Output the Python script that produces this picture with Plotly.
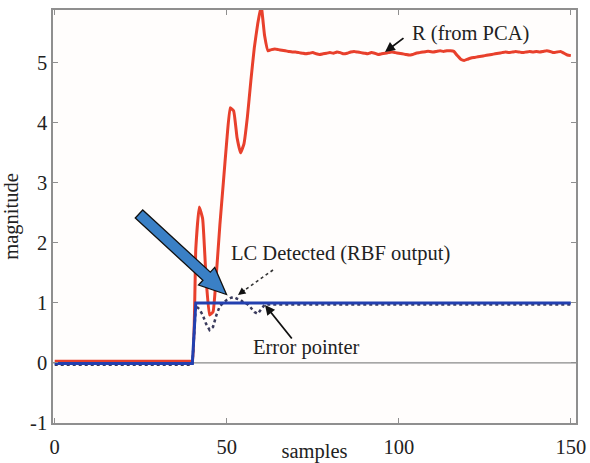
import plotly.graph_objects as go
import math

# ---------------- data ----------------
samples = list(range(0, 151))

r_pca = ([0.03] * 41 +
         [1.9, 2.6, 2.4, 1.4, 0.8, 0.85, 1.5, 2.3, 3.0, 3.7,
          4.25, 4.2, 3.75, 3.5, 3.65, 4.1, 4.7, 5.25, 5.65, 5.95,
          5.45, 5.2,
          5.22, 5.23, 5.22, 5.21, 5.2, 5.19, 5.18, 5.18,
          5.17, 5.16, 5.15, 5.16, 5.17, 5.15, 5.14, 5.15, 5.16, 5.17,
          5.16, 5.18, 5.17, 5.15, 5.16, 5.18, 5.19, 5.18, 5.17, 5.16,
          5.15, 5.17, 5.16, 5.14, 5.15, 5.16, 5.17, 5.18, 5.17, 5.16,
          5.15, 5.14, 5.13, 5.14, 5.16, 5.17, 5.18, 5.19, 5.19, 5.18,
          5.19, 5.2, 5.19, 5.2, 5.2, 5.19, 5.12, 5.06, 5.04, 5.06,
          5.08, 5.09, 5.1, 5.11, 5.12, 5.13, 5.14, 5.15, 5.16, 5.17,
          5.18, 5.17, 5.18, 5.19, 5.18, 5.17, 5.18, 5.19, 5.18, 5.19,
          5.18, 5.19, 5.2, 5.19, 5.17, 5.18, 5.19, 5.16, 5.13, 5.12])

rbf_output = ([-0.03] * 41 +
              [0.95, 0.9, 0.8, 0.65, 0.55, 0.6, 0.8, 0.95, 1.0, 1.05,
               1.08, 1.1, 1.07, 1.05, 1.0, 0.98, 0.92, 0.85, 0.82, 0.9,
               0.97] + [0.975] * 89)

lc_detected = [-0.01] * 41 + [1.0] * 110

x_ticks = [0, 50, 100, 150]
y_ticks = [-1, 0, 1, 2, 3, 4, 5]

# ---------------- geometry helpers (pixel -> data) ----------------
W, H = 590, 463
ML, MR, MT, MB = 53, 14, 10, 40
XR = [-0.5, 151.5]
YR = [-1.0, 5.88]
PW, PH = W - ML - MR, H - MT - MB


def px2x(px):
    return XR[0] + (px - ML) / PW * (XR[1] - XR[0])


def py2y(py):
    return YR[1] - (py - MT) / PH * (YR[1] - YR[0])


FONT = "Liberation Serif, Times New Roman, serif"
TXT = "#222222"
FS = 20.5

fig = go.Figure()

fig.add_trace(go.Scatter(x=samples, y=r_pca, mode="lines", name="R (from PCA)",
                         line=dict(color="#e8402c", width=3, shape="spline", smoothing=0.35)))
fig.add_trace(go.Scatter(x=samples, y=rbf_output, mode="lines", name="RBF output",
                         line=dict(color="#3a3a5c", width=2.5, dash="dot")))
fig.add_trace(go.Scatter(x=samples, y=lc_detected, mode="lines", name="LC Detected",
                         line=dict(color="#2340b0", width=3)))

# zero line
fig.add_shape(type="line", xref="paper", x0=0, x1=1, yref="y", y0=0, y1=0,
              line=dict(color="#8a8a8a", width=1.2), layer="below")

# big blue arrow (pixel geometry -> data)
T = (139.0, 214.0)
P = (226.5, 294.5)
dx, dy = P[0] - T[0], P[1] - T[1]
L = math.hypot(dx, dy)
ux, uy = dx / L, dy / L
nx, ny = -uy, ux
w, hw, hl = 5.5, 12.0, 27.0
Hc = (P[0] - hl * ux, P[1] - hl * uy)
pts = [
    (T[0] + w * nx, T[1] + w * ny),
    (Hc[0] + w * nx, Hc[1] + w * ny),
    (Hc[0] + hw * nx, Hc[1] + hw * ny),
    P,
    (Hc[0] - hw * nx, Hc[1] - hw * ny),
    (Hc[0] - w * nx, Hc[1] - w * ny),
    (T[0] - w * nx, T[1] - w * ny),
]
path = "M " + " L ".join(f"{px2x(a):.4f},{py2y(b):.4f}" for a, b in pts) + " Z"
fig.add_shape(type="path", path=path, xref="x", yref="y",
              fillcolor="#3a80c6", line=dict(color="#111111", width=1.3), layer="above")

# dotted arrow shaft for LC Detected
fig.add_shape(type="line", xref="x", yref="y",
              x0=px2x(273), y0=py2y(270), x1=px2x(242), y1=py2y(292),
              line=dict(color="#333333", width=1.6, dash="dot"), layer="above")

annotations = [
    dict(x=px2x(470), y=py2y(33), text="R (from PCA)", showarrow=False),
    dict(x=px2x(385), y=py2y(52), ax=px2x(405), ay=py2y(37), axref="x", ayref="y",
         text="", showarrow=True, arrowhead=2, arrowsize=1.1, arrowwidth=1.8, arrowcolor="#111111"),
    dict(x=px2x(340), y=py2y(253), text="LC Detected (RBF output)", showarrow=False),
    dict(x=px2x(238), y=py2y(295), ax=px2x(246), ay=py2y(289), axref="x", ayref="y",
         text="", showarrow=True, arrowhead=2, arrowsize=1.0, arrowwidth=1.5, arrowcolor="#111111"),
    dict(x=px2x(306), y=py2y(347), text="Error pointer", showarrow=False),
    dict(x=px2x(265), y=py2y(305), ax=px2x(293), ay=py2y(340), axref="x", ayref="y",
         text="", showarrow=True, arrowhead=2, arrowsize=1.1, arrowwidth=1.8, arrowcolor="#111111"),
]
for a in annotations:
    a.setdefault("xref", "x")
    a.setdefault("yref", "y")
    a["font"] = dict(family=FONT, size=FS, color=TXT)
    fig.add_annotation(**a)

axis_common = dict(showline=True, linecolor="#8f8f8f", linewidth=1.5, mirror="ticks",
                   ticks="inside", ticklen=5, tickcolor="#8f8f8f", showgrid=False,
                   zeroline=False, tickfont=dict(family=FONT, size=FS, color=TXT))

fig.update_xaxes(range=XR, tickvals=x_ticks, ticktext=[str(v) for v in x_ticks],
                 title=dict(text="samples", font=dict(family=FONT, size=FS, color=TXT), standoff=0),
                 ticklabelstandoff=5, **axis_common)
fig.update_yaxes(range=YR, tickvals=y_ticks, ticktext=[str(v) for v in y_ticks],
                 title=dict(text="magnitude", font=dict(family=FONT, size=FS, color=TXT)),
                 **axis_common)

fig.update_layout(width=W, height=H, margin=dict(l=ML, r=MR, t=MT, b=MB, autoexpand=False),
                  paper_bgcolor="white", plot_bgcolor="#fffdfc", showlegend=False,
                  font=dict(family=FONT, color=TXT))

fig.write_html("out.html")
